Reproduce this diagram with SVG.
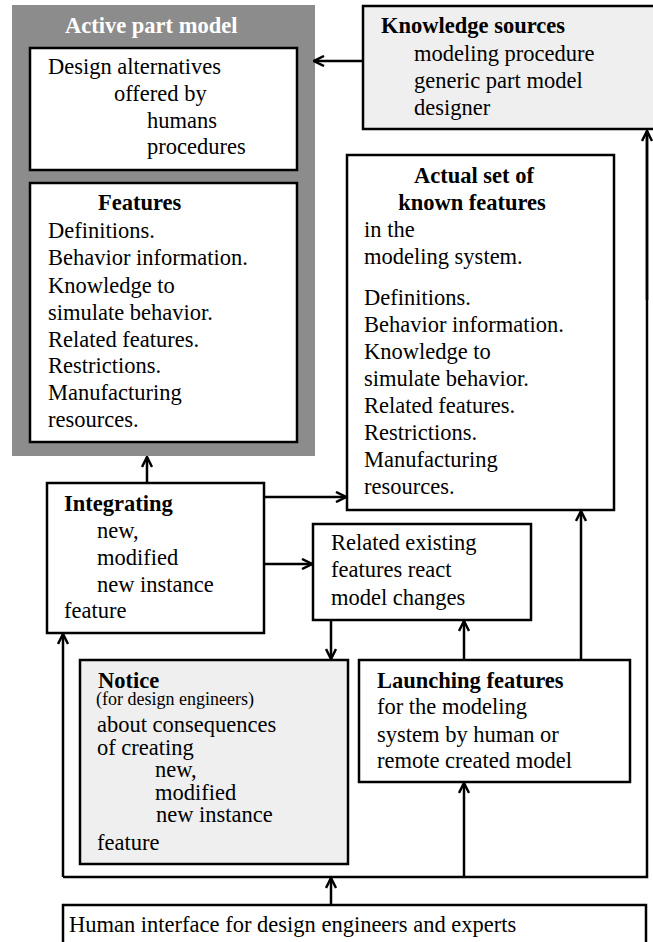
<svg xmlns="http://www.w3.org/2000/svg" width="653" height="942" viewBox="0 0 653 942">
<defs>
<style>
text{font-family:"Liberation Serif","Times New Roman",serif;font-size:22.5px;fill:#000}
.b{font-weight:bold}
.w{fill:#fff}
.s{font-size:18px}
.box{fill:#fff;stroke:#000;stroke-width:2.5}
.gbox{fill:#efefef;stroke:#000;stroke-width:2.5}
.ln{fill:none;stroke:#000;stroke-width:2.5}
.ar{fill:none;stroke:#000;stroke-width:2.5;marker-end:url(#ah)}
</style>
<marker id="ah" viewBox="0 0 12 12" refX="11" refY="6" markerWidth="12" markerHeight="12" markerUnits="userSpaceOnUse" orient="auto">
<path d="M1,1 L11,6 L1,11" fill="none" stroke="#000" stroke-width="2.5"/>
</marker>
</defs>

<g id="active-part-model">
<rect x="12" y="5" width="303" height="451" fill="#8c8c8c"/>
<text x="65" y="33" class="b w">Active part model</text>
</g>

<g id="design-alternatives">
<rect x="30" y="48" width="267" height="122" class="box"/>
<text x="48" y="74">Design alternatives</text>
<text x="114" y="101">offered by</text>
<text x="147" y="128">humans</text>
<text x="147" y="154">procedures</text>
</g>

<g id="features">
<rect x="30" y="183" width="267" height="259" class="box"/>
<text x="98" y="210" class="b">Features</text>
<text x="48" y="238">Definitions.</text>
<text x="48" y="265">Behavior information.</text>
<text x="48" y="293">Knowledge  to</text>
<text x="48" y="320">simulate behavior.</text>
<text x="48" y="347">Related features.</text>
<text x="48" y="373">Restrictions.</text>
<text x="48" y="400">Manufacturing</text>
<text x="48" y="427">resources.</text>
</g>

<g id="knowledge-sources">
<rect x="363" y="6" width="300" height="123" class="gbox"/>
<text x="381" y="33" class="b">Knowledge sources</text>
<text x="414" y="61">modeling procedure</text>
<text x="414" y="88">generic part model</text>
<text x="414" y="115">designer</text>
</g>

<g id="actual-set">
<rect x="347" y="155" width="267" height="355" class="box"/>
<text x="474" y="183" class="b" text-anchor="middle">Actual set of</text>
<text x="472" y="210" class="b" text-anchor="middle">known features</text>
<text x="364" y="237">in the</text>
<text x="364" y="264">modeling system.</text>
<text x="364" y="305">Definitions.</text>
<text x="364" y="332">Behavior information.</text>
<text x="364" y="359">Knowledge  to</text>
<text x="364" y="386">simulate behavior.</text>
<text x="364" y="413">Related features.</text>
<text x="364" y="440">Restrictions.</text>
<text x="364" y="467">Manufacturing</text>
<text x="364" y="494">resources.</text>
</g>

<g id="integrating">
<rect x="47" y="483" width="217" height="150" class="box"/>
<text x="64" y="511" class="b">Integrating</text>
<text x="97" y="538">new,</text>
<text x="97" y="565">modified</text>
<text x="97" y="592">new instance</text>
<text x="64" y="618">feature</text>
</g>

<g id="related-existing">
<rect x="313" y="524" width="218" height="96" class="box"/>
<text x="331" y="550">Related existing</text>
<text x="331" y="577">features react</text>
<text x="331" y="605">model changes</text>
</g>

<g id="notice">
<rect x="80" y="660" width="268" height="204" class="gbox"/>
<text x="98" y="688" class="b">Notice</text>
<text x="96" y="705" class="s">(for design engineers)</text>
<text x="97" y="732">about consequences</text>
<text x="97" y="755">of creating</text>
<text x="155" y="777">new,</text>
<text x="155" y="800">modified</text>
<text x="156" y="822">new instance</text>
<text x="97" y="850">feature</text>
</g>

<g id="launching">
<rect x="359" y="660" width="271" height="122" class="box"/>
<text x="377" y="688" class="b">Launching features</text>
<text x="377" y="714">for the modeling</text>
<text x="377" y="742">system by human or</text>
<text x="377" y="768">remote created model</text>
</g>

<g id="human-interface">
<rect x="63" y="905" width="583" height="50" class="box"/>
<text x="69" y="932">Human interface for design engineers and experts</text>
</g>

<g id="connectors">
<line x1="363" y1="61" x2="314" y2="61" class="ar"/>
<polyline points="63,877 647,877 647,131" class="ln"/>
<line x1="647" y1="300" x2="647" y2="131" class="ar"/>
<line x1="63" y1="877" x2="63" y2="634" class="ar"/>
<line x1="147" y1="483" x2="147" y2="457" class="ar"/>
<polyline points="264,497 346,497" class="ar"/>
<polyline points="264,564 312,564" class="ar"/>
<line x1="331" y1="620" x2="331" y2="659" class="ar"/>
<line x1="464" y1="660" x2="464" y2="621" class="ar"/>
<line x1="581" y1="660" x2="581" y2="511" class="ar"/>
<line x1="464" y1="877" x2="464" y2="783" class="ar"/>
<line x1="331" y1="905" x2="331" y2="878" class="ar"/>
</g>
</svg>
